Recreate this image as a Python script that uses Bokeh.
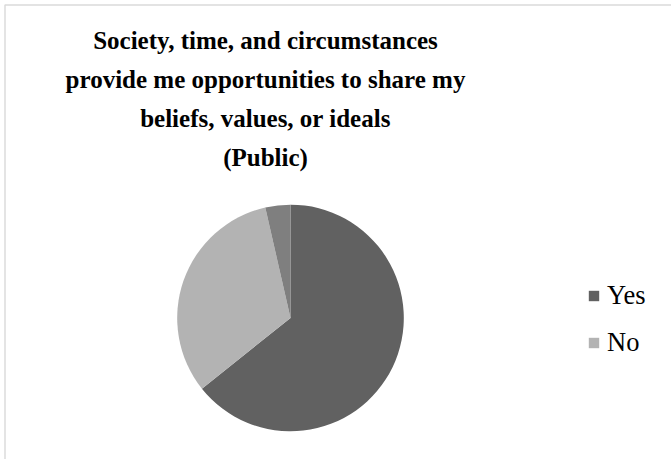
from math import pi
from bokeh.plotting import figure
from bokeh.models import Range1d, Label, Legend, LegendItem, BoxAnnotation, ColumnDataSource
from bokeh.embed import file_html
from bokeh.resources import INLINE

# Data
categories = ["Yes", "No", ""]
counts = [18, 9, 1]
colors = ["#616161", "#b3b3b3", "#7f7f7f"]
title_lines = [
    "Society, time, and circumstances",
    "provide me opportunities to share my",
    "beliefs, values, or ideals",
    "(Public)",
]

W, H = 671, 459
total = float(sum(counts))
starts, ends = [], []
acc = 0.0
for c in counts:
    starts.append(pi / 2 - acc / total * 2 * pi)
    acc += c
    ends.append(pi / 2 - acc / total * 2 * pi)

src = ColumnDataSource(dict(cat=categories, val=counts, color=colors, start=starts, end=ends))

p = figure(width=W, height=H, output_backend="svg", toolbar_location=None,
           x_range=Range1d(0, W), y_range=Range1d(0, H),
           x_axis_type=None, y_axis_type=None, min_border=0)
p.grid.visible = False
p.outline_line_color = None
p.background_fill_color = "white"
p.border_fill_color = "white"

# chart border
p.add_layout(BoxAnnotation(left=4.5, right=W + 50, top=H - 4.5, bottom=-50,
                           fill_alpha=0, line_color="#868686", line_width=1.5))

cx, cy, r = 290, H - 317.5, 113.3
wr = p.wedge(x=cx, y=cy, radius=r, start_angle="start", end_angle="end",
             direction="clock", fill_color="color", line_color=None, source=src)

title = Label(x=265, y=H - 26, x_units="data", y_units="data",
              text="\n".join(title_lines), text_align="center", text_baseline="top",
              text_font="Liberation Serif", text_font_style="bold",
              text_font_size="25px", text_line_height=1.45, text_color="black")
p.add_layout(title)

legend = Legend(items=[LegendItem(label=categories[i], renderers=[wr], index=i) for i in range(2)],
                location=(587, 101), orientation="vertical",
                label_text_font="Liberation Serif", label_text_font_size="26.5px",
                label_text_color="black", glyph_width=13, glyph_height=13,
                label_standoff=7, spacing=16, padding=8, margin=0,
                background_fill_alpha=0, border_line_color=None)
p.add_layout(legend, "center")

open("out.html", "w").write(file_html(p, INLINE))
